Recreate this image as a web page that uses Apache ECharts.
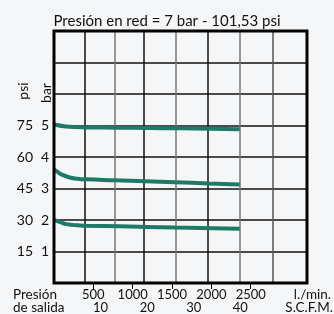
<!DOCTYPE html>
<html>
<head>
<meta charset="utf-8">
<script src="https://cdn.jsdelivr.net/npm/echarts@6/dist/echarts.min.js"></script>
<style>
  html, body { margin: 0; padding: 0; background: #f5f6f8; }
  #chart { width: 334px; height: 314px; }
</style>
</head>
<body>
<div id="chart"></div>
<script>
// caudal en l./min. y presion de salida en bar
var curve5 = [[0, 5.03], [150, 4.97], [400, 4.94], [800, 4.93], [1200, 4.92], [1600, 4.91], [2000, 4.9], [2360, 4.88]]
var curve3 = [[0, 3.61], [50, 3.52], [100, 3.44], [200, 3.35], [300, 3.31], [400, 3.29], [775, 3.26], [1540, 3.2], [1960, 3.16], [2360, 3.13]]
var curve2 = [[0, 2.0], [80, 1.93], [160, 1.87], [300, 1.83], [400, 1.82], [840, 1.8], [1540, 1.76], [2360, 1.72]]

var flowTicks = [500, 1000, 1500, 2000, 2500]
var scfmTicks = [10, 20, 30, 40]
var barTicks = [1, 2, 3, 4, 5]
var psiTicks = [15, 30, 45, 60, 75]
// lineas verticales de la cuadricula (l./min.)
var gridFlow = [390, 775, 1140, 1546, 1953, 2360, 2783]

var font = 'Lato'
var chart = echarts.init(document.getElementById('chart'))

function lineSeries(data) {
  return {
    type: 'line',
    data: data,
    smooth: true,
    showSymbol: false,
    xAxisIndex: 0,
    yAxisIndex: 0,
    lineStyle: { color: '#1e7a66', width: 4 },
    z: 5
  }
}

function plain(v) {
  return String(v)
}

chart.setOption({
  backgroundColor: '#f5f6f8',
  animation: false,
  title: {
    text: 'Presión en red = 7 bar - 101,53 psi',
    left: 'center',
    top: 9,
    textStyle: { fontFamily: font, fontSize: 15, fontWeight: 'normal', color: '#111' }
  },
  grid: {
    left: 54,
    right: 27,
    top: 31,
    bottom: 31,
    show: true,
    borderColor: '#000',
    borderWidth: 3,
    backgroundColor: 'transparent',
    z: 6
  },
  xAxis: [{
    type: 'value',
    min: 0,
    max: 3215,
    axisLine: { show: false },
    splitLine: { show: false },
    axisTick: { show: true, customValues: flowTicks, length: 6, lineStyle: { color: '#000' } },
    axisLabel: { customValues: flowTicks, formatter: plain, margin: 5, fontFamily: font, fontSize: 13, color: '#111' }
  }, {
    type: 'value',
    min: 0,
    max: 3215,
    axisLine: { show: false },
    axisTick: { show: false, customValues: gridFlow },
    axisLabel: { show: false, customValues: gridFlow },
    splitLine: {
      show: true,
      lineStyle: { color: ['#111', '#777', '#111', '#777', '#111', '#777', '#555'], width: 1.5 }
    }
  }, {
    type: 'value',
    min: 0,
    max: 54.3,
    position: 'bottom',
    offset: 13,
    axisLine: { show: false },
    splitLine: { show: false },
    axisTick: { show: false, customValues: scfmTicks },
    axisLabel: { customValues: scfmTicks, formatter: plain, margin: 5, fontFamily: font, fontSize: 13, color: '#111' }
  }],
  yAxis: [{
    type: 'value',
    min: 0,
    max: 8,
    interval: 1,
    axisLine: { show: false },
    axisTick: { show: false },
    splitLine: { show: true, lineStyle: { color: '#111', width: 1.5 } },
    axisLabel: {
      margin: 5,
      fontFamily: font,
      fontSize: 14,
      color: '#111',
      formatter: function (v) { return barTicks.indexOf(v) >= 0 ? String(v) : '' }
    }
  }, {
    type: 'value',
    min: 0,
    max: 120,
    position: 'left',
    offset: 16,
    axisLine: { show: false },
    splitLine: { show: false },
    axisTick: { show: false, customValues: psiTicks },
    axisLabel: { customValues: psiTicks, formatter: plain, margin: 5, fontFamily: font, fontSize: 14, color: '#111' }
  }],
  graphic: [
    { type: 'text', x: 23, y: 91, rotation: Math.PI / 2, style: { text: 'psi', font: '14px Lato', fill: '#111', textAlign: 'center', textVerticalAlign: 'middle' } },
    { type: 'text', x: 46, y: 93, rotation: Math.PI / 2, style: { text: 'bar', font: '14px Lato', fill: '#111', textAlign: 'center', textVerticalAlign: 'middle' } },
    { type: 'text', left: 13, top: 288, style: { text: 'Presión', font: '13.5px Lato', fill: '#111' } },
    { type: 'text', left: 13, top: 301, style: { text: 'de salida', font: '13.5px Lato', fill: '#111' } },
    { type: 'text', right: 3, top: 288, style: { text: 'l./min.', font: '13.5px Lato', fill: '#111' } },
    { type: 'text', right: 1, top: 301, style: { text: 'S.C.F.M.', font: '13.5px Lato', fill: '#111' } }
  ],
  series: [lineSeries(curve5), lineSeries(curve3), lineSeries(curve2)]
})
</script>
</body>
</html>
